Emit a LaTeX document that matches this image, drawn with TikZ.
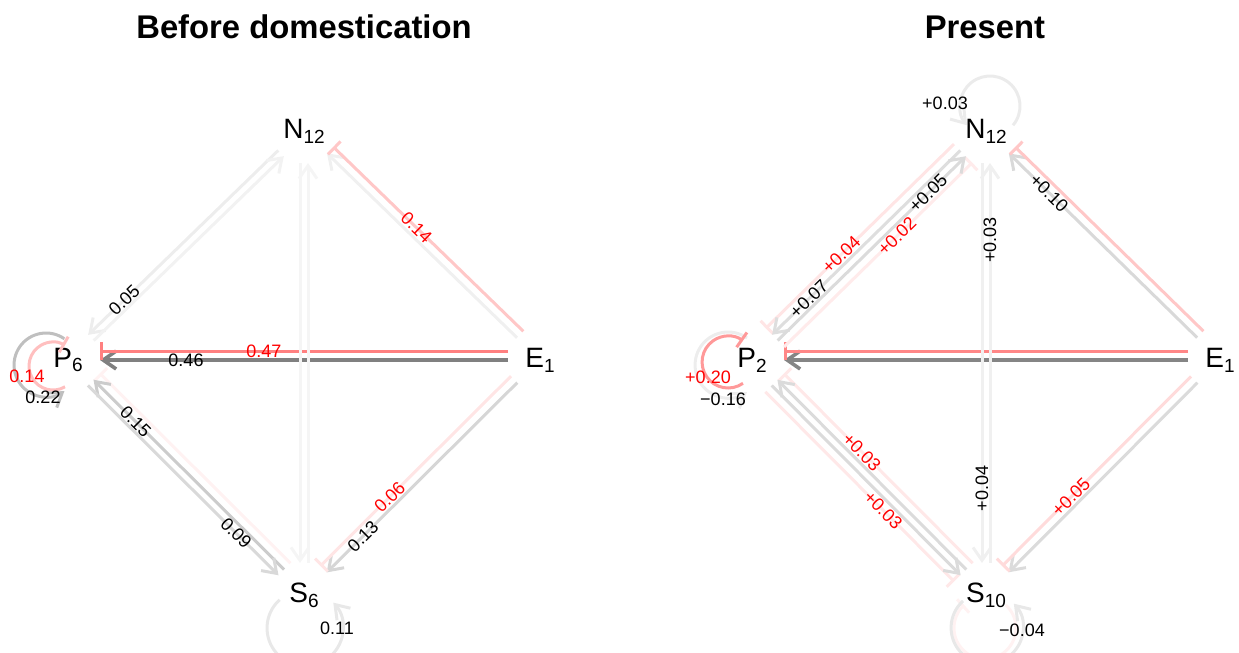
\documentclass[tikz,border=0pt]{standalone}
\usepackage{fontspec}
\setmainfont{Liberation Sans}
\usepackage{tikz}
\usetikzlibrary{arrows.meta,calc}

% node label with a lowered index
\newcommand{\sublab}[2]{#1\raisebox{-2.4pt}{\fontsize{9.5}{10}\selectfont#2}}
% edge from #2 to #3, moved #4 to the right side of its direction
\newcommand{\qedge}[5][]{\draw[#1] ($(#2)!#4!-90:(#3)$) -- ($(#3)!#4!90:(#2)$) #5;}

\begin{document}
\begin{tikzpicture}[x=0.5pt, y=-0.5pt,
    vertex/.style={font=\fontsize{14}{16}\selectfont, inner sep=0pt},
    ttl/.style={font=\fontsize{16.4}{19}\selectfont\bfseries},
    posedge/.style={line width=1.5pt, -{Straight Barb[length=6.5pt,width=9pt]},
                    shorten <=16pt, shorten >=16pt},
    negedge/.style={line width=1.5pt, -{Bar[width=9pt]},
                    shorten <=16pt, shorten >=16pt},
    posloop/.style={line width=1.5pt, -{Straight Barb[length=6.5pt,width=9pt]}},
    negloop/.style={line width=1.5pt, -{Bar[width=9pt]}},
    lab/.style={font=\fontsize{9}{10}\selectfont, inner sep=0pt, text=black},
    rlab/.style={lab, text=red},
    elab/.style={lab, sloped},
    erlab/.style={rlab, sloped},
  ]
  \useasboundingbox (0,0) rectangle (1239,653);

  % before domestication
  \node[ttl] (t1) at (304,27) {Before domestication};
  \node[vertex] (lN) at (304,131) {\sublab{N}{12}};
  \node[vertex] (lP) at (68,360) {\sublab{P}{6}};
  \node[vertex] (lE) at (540,360) {\sublab{E}{1}};
  \node[vertex] (lS) at (304,595) {\sublab{S}{6}};

  \qedge[posedge, black!50, line width=1.8pt]{lE}{lP}{0pt}{node[elab, pos=0.75] (l46) {0.46}}
  \qedge[negedge, red!50]{lE}{lP}{4.5pt}{node[erlab, pos=0.585] (l47) {0.47}}
  \qedge[posedge, black!6]{lE}{lN}{0pt}{}
  \qedge[negedge, red!22]{lE}{lN}{4.5pt}{node[erlab, pos=0.55] (l14) {0.14}}
  \qedge[posedge, black!7]{lN}{lP}{2pt}{node[elab, pos=0.75] (l05) {0.05}}
  \qedge[posedge, black!5]{lP}{lN}{2pt}{}
  \qedge[negedge, red!5]{lS}{lP}{6.5pt}{}
  \qedge[posedge, black!20]{lS}{lP}{2pt}{node[elab, pos=0.725] (l15) {0.15}}
  \qedge[posedge, black!15]{lP}{lS}{2pt}{node[elab, pos=0.725] (l09) {0.09}}
  \qedge[posedge, black!16]{lE}{lS}{0pt}{node[elab, pos=0.75] (l13) {0.13}}
  \qedge[negedge, red!10]{lE}{lS}{4.5pt}{node[erlab, pos=0.61] (l06) {0.06}}
  \qedge[posedge, black!4]{lN}{lS}{2pt}{}
  \qedge[posedge, black!4]{lS}{lN}{2pt}{}

  \draw[posloop, black!25] ($(lP)+(-3.6,-21.2)$) arc[start angle=-55, end angle=-305, radius=32];
  \draw[negloop, red!25] ($(lP)+(-3,26.8)$) arc[start angle=60, end angle=300, radius=24];
  \node[rlab] (lPneg) at ($(lP)+(-41,16)$) {0.14};
  \node[lab] (lPpos) at ($(lP)+(-25,37)$) {0.22};
  \draw[posloop, black!9] ($(lS)+(-24.4,4.8)$) arc[start angle=-132, end angle=-402, radius=38];
  \node[lab] (lSpos) at ($(lS)+(33,33)$) {0.11};

  % present
  \node[ttl] (t2) at (985,27) {Present};
  \node[vertex] (rN) at (986,131) {\sublab{N}{12}};
  \node[vertex] (rP) at (752,360) {\sublab{P}{2}};
  \node[vertex] (rE) at (1220,360) {\sublab{E}{1}};
  \node[vertex] (rS) at (986,595) {\sublab{S}{10}};

  \qedge[posedge, black!48, line width=1.8pt]{rE}{rP}{0pt}{}
  \qedge[negedge, red!47]{rE}{rP}{4.5pt}{}
  \qedge[posedge, black!15]{rE}{rN}{0pt}{node[elab, pos=0.73] (r10) {+0.10}}
  \qedge[negedge, red!22]{rE}{rN}{4.5pt}{}
  \qedge[negedge, red!10]{rN}{rP}{6.5pt}{node[erlab, pos=0.58] (r04) {+0.04}}
  \qedge[posedge, black!13]{rN}{rP}{2pt}{node[elab, pos=0.745] (r07) {+0.07}}
  \qedge[negedge, red!8]{rP}{rN}{6.5pt}{node[erlab, pos=0.58] (r02) {+0.02}}
  \qedge[posedge, black!14]{rP}{rN}{2pt}{node[elab, pos=0.74] (r05) {+0.05}}
  \qedge[negedge, red!9]{rS}{rP}{6.5pt}{node[erlab, pos=0.57] (r03a) {+0.03}}
  \qedge[posedge, black!14]{rS}{rP}{2pt}{}
  \qedge[negedge, red!9]{rP}{rS}{6.5pt}{node[erlab, pos=0.6] (r03b) {+0.03}}
  \qedge[posedge, black!14]{rP}{rS}{2pt}{}
  \qedge[posedge, black!14]{rE}{rS}{0pt}{}
  \qedge[negedge, red!14]{rE}{rS}{4.5pt}{node[erlab, pos=0.61] (r05b) {+0.05}}
  \qedge[posedge, black!6]{rN}{rS}{2pt}{node[lab, rotate=90, pos=0.77] (r04b) {+0.04}}
  \qedge[posedge, black!6]{rS}{rN}{2pt}{node[lab, rotate=90, pos=0.765] (r03c) {+0.03}}

  \draw[posloop, black!8] ($(rN)+(27,-5.7)$) arc[start angle=40, end angle=-220, radius=30];
  \node[lab] (rNpos) at ($(rN)+(-41,-28)$) {+0.03};
  \draw[posloop, black!7] ($(rP)+(-5,-22)$) arc[start angle=-55, end angle=-305, radius=33];
  \draw[negloop, red!40] ($(rP)+(-9,23.3)$) arc[start angle=55, end angle=305, radius=26];
  \node[rlab] (rPneg) at ($(rP)+(-44,17)$) {+0.20};
  \node[lab] (rPpos) at ($(rP)+(-29,39)$) {−0.16};
  \draw[negloop, red!5] ($(rS)+(19.7,10)$) arc[start angle=-48, end angle=228, radius=31];
  \draw[posloop, black!9] ($(rS)+(-23,6)$) arc[start angle=-132, end angle=-402, radius=36];
  \node[lab] (rSpos) at ($(rS)+(36,35)$) {−0.04};
\end{tikzpicture}
\end{document}
